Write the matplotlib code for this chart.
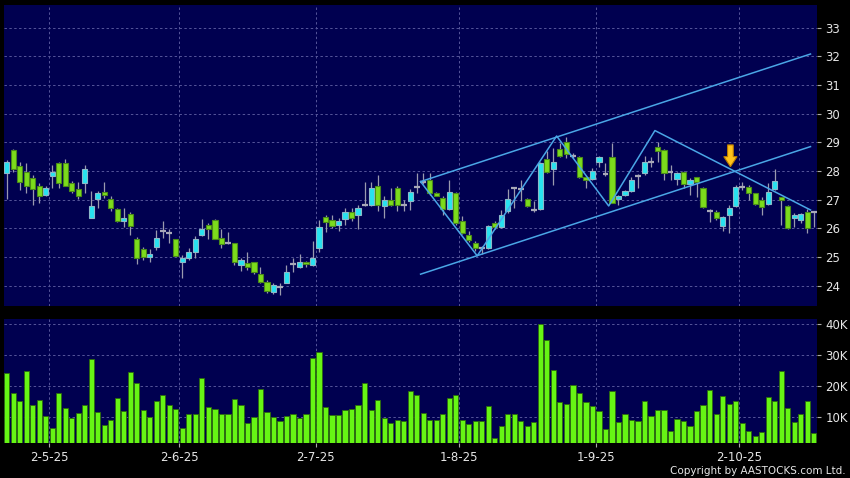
import matplotlib
matplotlib.use('Agg')
import matplotlib.pyplot as plt
import numpy as np
from matplotlib.patches import FancyArrow

# ---------------- data ----------------
opens = [27.92, 28.73, 28.18, 27.98, 27.75, 27.46, 27.15, 27.81, 28.27, 28.27,
         27.57, 27.37, 27.57, 26.35, 27.02, 27.26, 27.02, 26.67, 26.24, 26.51,
         25.64, 25.28, 25.00, 25.35, 25.89, 25.82, 25.61, 24.83, 24.98, 25.19,
         25.78, 26.11, 26.30, 25.67, 25.49, 25.49, 24.72, 24.80, 24.81, 24.39,
         24.11, 23.79, 23.94, 24.10, 24.74, 24.64, 24.83, 24.72, 25.30, 26.40,
         26.30, 26.11, 26.33, 26.57, 26.45, 26.82, 26.82, 27.48, 26.79, 27.00,
         27.40, 26.82, 26.94, 27.43, 27.63, 27.69, 27.23, 27.05, 26.67, 27.23,
         26.27, 25.75, 25.50, 25.32, 25.30, 26.17, 26.05, 26.59, 27.40, 27.38,
         27.02, 26.65, 26.67, 28.41, 28.06, 28.76, 29.00, 28.54, 28.50, 27.78,
         27.71, 28.30, 27.90, 28.50, 27.02, 27.17, 27.31, 27.83, 27.92, 28.33,
         28.85, 28.72, 27.95, 27.71, 27.95, 27.55, 27.78, 27.40, 26.62, 26.58,
         26.09, 26.47, 26.78, 27.45, 27.45, 27.22, 26.99, 26.85, 27.36, 27.10,
         26.79, 26.35, 26.29, 26.58, 26.58]
highs = [28.39, 28.77, 28.33, 28.27, 27.86, 27.57, 27.49, 28.21, 28.33, 28.42,
         27.66, 27.63, 28.21, 27.31, 27.29, 27.60, 27.13, 26.71, 26.71, 26.56,
         25.69, 25.35, 25.28, 25.93, 26.27, 25.98, 25.63, 25.06, 25.33, 25.73,
         26.34, 26.19, 26.34, 25.96, 25.88, 25.49, 24.98, 25.16, 24.81, 24.64,
         24.20, 24.08, 24.08, 24.72, 24.98, 25.10, 24.87, 25.56, 26.30, 26.48,
         26.45, 26.36, 26.71, 26.71, 26.82, 27.63, 27.61, 27.86, 27.11, 27.40,
         27.46, 27.00, 27.37, 27.92, 27.92, 27.92, 27.28, 27.11, 27.69, 27.26,
         26.42, 25.90, 25.55, 25.38, 26.10, 26.25, 26.65, 27.37, 27.45, 27.69,
         27.05, 26.94, 28.33, 28.68, 28.79, 28.97, 29.20, 28.62, 28.52, 27.80,
         28.10, 28.52, 28.27, 28.97, 27.17, 27.34, 27.78, 27.90, 28.52, 28.50,
         29.02, 28.75, 28.21, 27.98, 28.01, 27.74, 27.80, 27.45, 26.66, 26.64,
         26.43, 26.81, 27.51, 27.63, 27.51, 27.24, 27.10, 27.57, 28.06, 27.10,
         26.81, 26.52, 26.52, 26.66, 26.62]
lows = [27.02, 27.98, 27.34, 27.23, 26.82, 26.90, 27.11, 27.40, 27.40, 27.46,
        27.23, 27.03, 27.23, 26.35, 26.71, 27.05, 26.59, 26.21, 26.06, 25.76,
        24.74, 24.91, 24.82, 25.26, 25.65, 25.50, 25.02, 24.25, 24.89, 24.98,
        25.74, 25.64, 25.62, 25.33, 25.45, 24.72, 24.51, 24.54, 24.39, 24.08,
        23.73, 23.71, 23.67, 24.08, 24.49, 24.60, 24.64, 24.69, 25.18, 25.88,
        26.00, 25.90, 26.10, 26.25, 25.98, 26.77, 26.79, 26.59, 26.36, 26.77,
        26.59, 26.62, 26.63, 27.23, 27.55, 27.17, 27.11, 26.48, 26.65, 26.13,
        25.79, 25.52, 25.21, 25.09, 25.27, 25.98, 26.01, 26.55, 26.71, 26.94,
        26.74, 26.56, 26.65, 27.92, 27.52, 28.48, 28.45, 28.47, 27.75, 27.40,
        27.69, 28.15, 27.84, 26.88, 26.82, 27.13, 27.26, 27.40, 27.86, 28.13,
        28.33, 27.70, 27.69, 27.51, 27.40, 27.16, 27.10, 26.70, 26.23, 26.29,
        25.92, 25.83, 26.76, 27.34, 26.99, 26.81, 26.47, 26.81, 27.34, 26.12,
        25.98, 26.06, 26.17, 25.83, 26.06]
closes = [28.30, 28.06, 27.63, 27.49, 27.37, 27.11, 27.40, 27.96, 27.57, 27.49,
          27.29, 27.11, 28.06, 26.79, 27.23, 27.16, 26.71, 26.24, 26.36, 26.07,
          24.97, 25.00, 25.11, 25.66, 25.89, 25.82, 25.04, 24.98, 25.19, 25.64,
          25.99, 25.99, 25.64, 25.45, 25.49, 24.81, 24.91, 24.64, 24.46, 24.11,
          23.81, 24.02, 23.94, 24.46, 24.74, 24.83, 24.74, 24.98, 26.05, 26.22,
          26.08, 26.25, 26.57, 26.36, 26.71, 26.82, 27.40, 26.82, 27.00, 26.82,
          26.82, 26.82, 27.26, 27.43, 27.63, 27.23, 27.13, 26.67, 27.26, 26.17,
          25.84, 25.58, 25.30, 25.32, 26.07, 26.05, 26.47, 27.02, 27.40, 27.38,
          26.79, 26.65, 28.27, 27.96, 28.33, 28.52, 28.60, 28.54, 27.78, 27.69,
          28.00, 28.48, 27.90, 26.90, 27.13, 27.29, 27.67, 27.83, 28.33, 28.33,
          28.68, 27.92, 27.95, 27.92, 27.55, 27.69, 27.60, 26.73, 26.62, 26.35,
          26.38, 26.70, 27.43, 27.45, 27.22, 26.85, 26.73, 27.28, 27.66, 26.99,
          26.02, 26.47, 26.49, 26.00, 26.58]
volumes_k = [24.4, 17.7, 15.1, 24.8, 14.0, 15.5, 10.4, 6.6, 17.8, 13.0,
             9.7, 11.4, 13.9, 28.7, 11.6, 7.6, 9.1, 16.2, 12.0, 24.6,
             21.0, 12.3, 10.2, 15.4, 17.2, 13.9, 12.8, 6.5, 11.2, 10.9,
             22.7, 13.4, 12.7, 10.9, 11.0, 15.9, 14.1, 8.2, 10.2, 19.0,
             11.6, 10.2, 8.8, 10.4, 11.1, 9.7, 11.2, 29.1, 31.0, 13.3,
             10.6, 10.6, 12.5, 12.6, 13.9, 21.2, 12.3, 15.6, 9.9, 8.3,
             9.2, 8.9, 18.5, 17.2, 11.5, 9.1, 9.1, 11.0, 16.2, 17.2,
             9.1, 7.7, 8.8, 8.8, 13.5, 3.4, 7.2, 10.9, 11.2, 8.8,
             7.3, 8.4, 40.0, 35.0, 25.1, 14.9, 14.2, 20.4, 17.9, 15.0,
             13.7, 12.0, 6.2, 18.6, 8.6, 11.1, 9.0, 8.9, 15.1, 10.5,
             12.3, 12.2, 5.7, 9.4, 8.9, 7.2, 12.0, 14.0, 18.8, 11.1,
             16.8, 14.4, 15.1, 8.3, 5.7, 4.0, 5.4, 16.5, 15.4, 24.8,
             12.9, 8.6, 11.1, 15.3, 5.0]

date_labels = ['2-5-25', '2-6-25', '2-7-25', '1-8-25', '1-9-25', '2-10-25']
date_pos = [6.5, 26.5, 47.5, 69.5, 90.5, 112.5]
price_ticks = [24, 25, 26, 27, 28, 29, 30, 31, 32, 33]
vol_ticks_k = [10, 20, 30, 40]

channel_x = [63.6, 123.5]
channel_upper_y = [27.63, 32.08]
channel_lower_y = [24.40, 28.85]
zigzag_x = [63.6, 72.3, 84.5, 92.5, 99.6, 123.5]
zigzag_y = [27.63, 25.04, 29.22, 26.78, 29.41, 26.64]
arrow_x, arrow_top, arrow_tip = 111.2, 28.91, 28.15

# ---------------- style ----------------
BG = '#000050'
GRID = '#55559a'
TXT = '#e6e6e6'
UP_FC, UP_EC = '#27e2f0', '#8cb8c8'
DN_FC, DN_EC = '#7cdc1c', '#4a8a1a'
DOJI = '#a8a8b8'
WICK = '#9a9aae'
VOL_FC, VOL_EC = '#66f514', '#2c6a0e'
LINE = '#4aa6e6'

o = np.array(opens); h = np.array(highs); l = np.array(lows); c = np.array(closes)
idx = np.arange(len(o))
vol = np.array(volumes_k) * 1000

fig = plt.figure(figsize=(8.5, 4.78), dpi=100, facecolor='black')
ax = fig.add_axes([4/850, 1-306/478, 813/850, 301/478], facecolor=BG)
axv = fig.add_axes([4/850, 1-443/478, 813/850, 124/478], facecolor=BG, sharex=ax)

for a in (ax, axv):
    for s in a.spines.values():
        s.set_visible(False)
    a.set_axisbelow(True)

# grid
ax.set_xlim(-0.4, 124.5)
ax.set_ylim(23.29, 33.79)
axv.set_ylim(1700, 41700)
ax.set_yticks(price_ticks)
axv.set_yticks([v*1000 for v in vol_ticks_k])
axv.set_yticklabels([f'{v}K' for v in vol_ticks_k])
ax.set_xticks(date_pos)
axv.set_xticks(date_pos)
axv.set_xticklabels(date_labels)
plt.setp(ax.get_xticklabels(), visible=False)
for a in (ax, axv):
    a.grid(True, color=GRID, linestyle=(0, (2.5, 2.5)), linewidth=0.7)
    a.yaxis.tick_right()
    a.tick_params(axis='y', length=3, width=0.8, color='#aaaaaa', pad=3,
                  labelsize=8.5, labelcolor=TXT)
ax.tick_params(axis='x', length=0)
axv.tick_params(axis='x', length=3, width=0.8, color='#aaaaaa', pad=3,
                labelsize=8.5, labelcolor=TXT)

# candles
up = c > o
dn = c < o
dj = c == o
ax.vlines(idx, l, h, color=WICK, linewidth=0.9, zorder=2)
ax.bar(idx[up], (c - o)[up], bottom=o[up], width=0.8, color=UP_FC,
       edgecolor=UP_EC, linewidth=0.8, zorder=3)
ax.bar(idx[dn], (o - c)[dn], bottom=c[dn], width=0.8, color=DN_FC,
       edgecolor=DN_EC, linewidth=0.8, zorder=3)
ax.hlines(c[dj], idx[dj] - 0.45, idx[dj] + 0.45, color=DOJI, linewidth=1.6, zorder=3)

# trend lines
ax.plot(channel_x, channel_upper_y, color=LINE, linewidth=1.1, zorder=4)
ax.plot(channel_x, channel_lower_y, color=LINE, linewidth=1.1, zorder=4)
ax.plot(zigzag_x, zigzag_y, color=LINE, linewidth=1.1, zorder=4)

# arrow
ax.add_patch(FancyArrow(arrow_x, arrow_top, 0, arrow_tip - arrow_top, width=0.88,
                        head_width=2.04, head_length=0.35, length_includes_head=True,
                        fc='#ffc21a', ec='#b87a00', linewidth=0.8, zorder=6))

# volume
axv.bar(idx, vol, width=0.8, bottom=0, color=VOL_FC, edgecolor=VOL_EC,
        linewidth=0.6, zorder=3)

fig.text(846/850, 1-471/478, 'Copyright by AASTOCKS.com Ltd.', color=TXT,
         fontsize=7.5, ha='right', va='center')

fig.savefig('out.png', dpi=100, facecolor='black')
